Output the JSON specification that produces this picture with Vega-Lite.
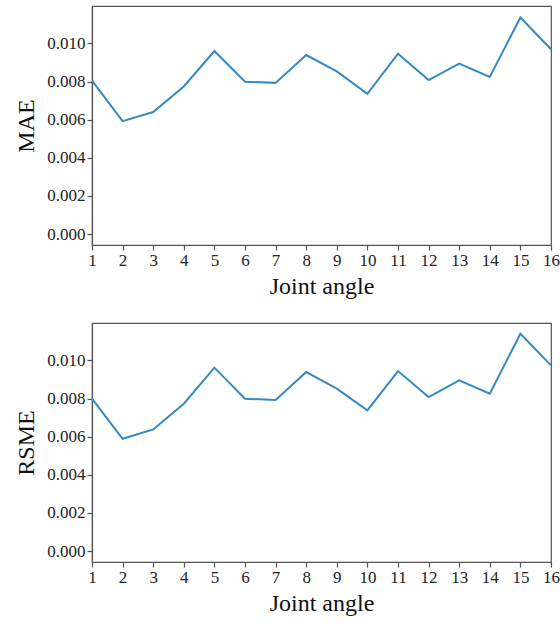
{
  "$schema": "https://vega.github.io/schema/vega-lite/v6.json",
  "padding": {"left": 14, "top": 5, "right": 5, "bottom": 5},
  "config": {
    "font": "Liberation Serif",
    "view": {"stroke": "#555", "strokeWidth": 1.2},
    "axis": {
      "grid": false,
      "domainColor": "#555",
      "domainWidth": 1.2,
      "tickColor": "#555",
      "tickWidth": 1.2,
      "tickSize": 5,
      "labelFont": "Liberation Serif",
      "labelFontSize": 17,
      "labelColor": "#222",
      "labelPadding": 2,
      "titleFont": "Liberation Serif",
      "titleFontSize": 24,
      "titleFontWeight": "normal",
      "titleColor": "#111",
      "labelOverlap": false,
      "labelFlush": false
    }
  },
  "datasets": {
    "mae": [
      {"joint": 1, "value": 0.00805},
      {"joint": 2, "value": 0.00592},
      {"joint": 3, "value": 0.0064},
      {"joint": 4, "value": 0.00774},
      {"joint": 5, "value": 0.0096},
      {"joint": 6, "value": 0.00799},
      {"joint": 7, "value": 0.00793},
      {"joint": 8, "value": 0.00939},
      {"joint": 9, "value": 0.00853},
      {"joint": 10, "value": 0.00736},
      {"joint": 11, "value": 0.00946},
      {"joint": 12, "value": 0.00808},
      {"joint": 13, "value": 0.00894},
      {"joint": 14, "value": 0.00824},
      {"joint": 15, "value": 0.01136},
      {"joint": 16, "value": 0.00969}
    ],
    "rsme": [
      {"joint": 1, "value": 0.00799},
      {"joint": 2, "value": 0.00589},
      {"joint": 3, "value": 0.00638},
      {"joint": 4, "value": 0.00773},
      {"joint": 5, "value": 0.00962},
      {"joint": 6, "value": 0.00799},
      {"joint": 7, "value": 0.00792},
      {"joint": 8, "value": 0.00939},
      {"joint": 9, "value": 0.00852},
      {"joint": 10, "value": 0.00738},
      {"joint": 11, "value": 0.00944},
      {"joint": 12, "value": 0.00808},
      {"joint": 13, "value": 0.00895},
      {"joint": 14, "value": 0.00825},
      {"joint": 15, "value": 0.0114},
      {"joint": 16, "value": 0.00974}
    ]
  },
  "spacing": 23,
  "vconcat": [
    {
      "width": 459,
      "height": 239,
      "data": {"name": "mae"},
      "mark": {"type": "line", "color": "#3589c4", "strokeWidth": 2},
      "encoding": {
        "x": {"field": "joint", "type": "quantitative", "title": "Joint angle",
              "scale": {"domain": [1, 16], "nice": false, "zero": false},
              "axis": {"values": [1,2,3,4,5,6,7,8,9,10,11,12,13,14,15,16], "format": "d", "titlePadding": 6}},
        "y": {"field": "value", "type": "quantitative", "title": "MAE",
              "scale": {"domain": [-0.00057, 0.01196], "nice": false, "zero": false},
              "axis": {"values": [0, 0.002, 0.004, 0.006, 0.008, 0.010], "format": ".3f", "titlePadding": 8}}
      }
    },
    {
      "width": 459,
      "height": 239,
      "data": {"name": "rsme"},
      "mark": {"type": "line", "color": "#3589c4", "strokeWidth": 2},
      "encoding": {
        "x": {"field": "joint", "type": "quantitative", "title": "Joint angle",
              "scale": {"domain": [1, 16], "nice": false, "zero": false},
              "axis": {"values": [1,2,3,4,5,6,7,8,9,10,11,12,13,14,15,16], "format": "d", "titlePadding": 6}},
        "y": {"field": "value", "type": "quantitative", "title": "RSME",
              "scale": {"domain": [-0.00057, 0.01196], "nice": false, "zero": false},
              "axis": {"values": [0, 0.002, 0.004, 0.006, 0.008, 0.010], "format": ".3f", "titlePadding": 8}}
      }
    }
  ]
}
